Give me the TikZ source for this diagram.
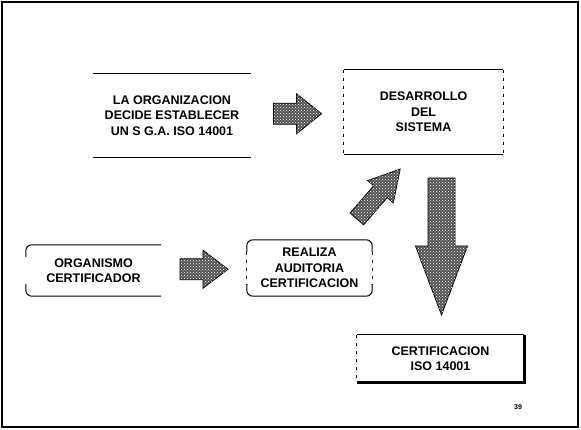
\documentclass[tikz,border=0pt]{standalone}
\usepackage{fontspec}
\setmainfont{Liberation Sans}
\usetikzlibrary{calc, patterns}
\tikzset{
  box/.style={
    rectangle, align=center, inner sep=2pt,
    font=\fontsize{12.5}{15.5}\selectfont\bfseries
  },
  edge/.style={draw=black, line width=1pt},
  sideedge/.style={draw=black, line width=1pt, dash pattern=on 3pt off 5pt},
  shadowedge/.style={draw=black, line width=2.8pt},
  fatarrow/.style={
    draw=black, line width=0.8pt, fill=black!68,
    postaction={pattern=crosshatch dots, pattern color=white}
  },
  frame/.style={draw=black, line width=2.2pt}
}
% #1 centre, #2 angle, #3 length, #4 shaft, #5 head width, #6 head length
\newcommand{\blockarrow}[6]{%
  \begin{scope}[shift={#1}, rotate=#2]
    \draw[fatarrow] ({-#3/2},{-#4/2}) -- ({#3/2-#6},{-#4/2}) -- ({#3/2-#6},{-#5/2})
      -- ({#3/2},0) -- ({#3/2-#6},{#5/2}) -- ({#3/2-#6},{#4/2}) -- ({-#3/2},{#4/2}) -- cycle;
  \end{scope}}

\begin{document}
\begin{tikzpicture}[x=1pt, y=-1pt]
\useasboundingbox (0,0) rectangle (581,430);
\draw[frame] (2,2) rectangle (578,427);

% boxes
\node[box, minimum width=158pt, minimum height=83pt] (decide) at (172,115.5)
  {LA ORGANIZACION\\DECIDE ESTABLECER\\UN S G.A. ISO 14001};
\node[box, minimum width=159pt, minimum height=84pt] (desarrollo) at (423.5,112)
  {DESARROLLO\\DEL\\SISTEMA};
\node[box, minimum width=135pt, minimum height=51pt] (organismo) at (93.5,270.5)
  {ORGANISMO\\CERTIFICADOR};
\node[box, minimum width=125pt, minimum height=56pt] (auditoria) at (309.5,268)
  {REALIZA\\AUDITORIA\\CERTIFICACION};
\node[box, minimum width=167pt, minimum height=47pt] (certif) at (440.5,358.5)
  {CERTIFICACION\\ISO 14001};
\node[font=\fontsize{7}{8}\selectfont\bfseries] (pagina) at (518,407) {39};

% edges of the boxes
\draw[edge] (decide.north west) -- (decide.north east);
\draw[edge] (decide.south west) -- (decide.south east);

\draw[edge] (desarrollo.north west) -- (desarrollo.north east);
\draw[edge] (desarrollo.south west) -- (desarrollo.south east);
\draw[sideedge] (desarrollo.north west) -- (desarrollo.south west);
\draw[sideedge] (desarrollo.north east) -- (desarrollo.south east);

\draw[edge, rounded corners=6pt] ([yshift=-12pt]organismo.north west) |- (organismo.north east);
\draw[edge, rounded corners=6pt] ([yshift=12pt]organismo.south west) |- (organismo.south east);

\draw[edge, rounded corners=6pt] ([yshift=-12pt]auditoria.north west) |- (auditoria.north east)
  -- ([yshift=-12pt]auditoria.north east);
\draw[edge, rounded corners=6pt] ([yshift=12pt]auditoria.south west) |- (auditoria.south east)
  -- ([yshift=12pt]auditoria.south east);
\draw[sideedge] ([yshift=-12pt]auditoria.north west) -- ([yshift=12pt]auditoria.south west);
\draw[sideedge] ([yshift=-12pt]auditoria.north east) -- ([yshift=12pt]auditoria.south east);

\draw[edge] (certif.north west) -- (certif.north east);
\draw[sideedge] (certif.north west) -- (certif.south west);
\draw[shadowedge] (certif.north east) -- (certif.south east) -- (certif.south west);

% block arrows
\blockarrow{($(decide.east)!0.5!(desarrollo.west)$)}{0}{48}{21}{40}{25}
\blockarrow{($(organismo.east)!0.5!(auditoria.west)$)}{0}{48}{21}{38}{25}
\blockarrow{(378.5,194)}{49}{66}{18}{34}{30}
\blockarrow{(441.5,246.5)}{-90}{137}{27}{52}{69}

\end{tikzpicture}
\end{document}
